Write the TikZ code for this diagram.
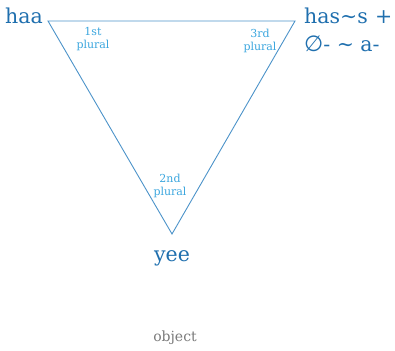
\documentclass[tikz,border=0pt]{standalone}
\usepackage{fontspec}
\setmainfont{DejaVu Serif}
\newfontfamily\symfont{DejaVu Sans}
\definecolor{mainblue}{HTML}{1F6FAE}
\definecolor{lineblue}{HTML}{4C93C9}
\definecolor{lightblue}{HTML}{3BA6DE}
\definecolor{objgray}{HTML}{7A7A7A}
\tikzset{
  big/.style={text=mainblue, font=\fontsize{20.5}{23}\selectfont, inner sep=0pt},
  small/.style={text=lightblue, font=\fontsize{11}{13.5}\selectfont, align=center, inner sep=0pt},
  tri/.style={draw=lineblue, line width=0.9pt}
}
\begin{document}
\begin{tikzpicture}[x=1pt,y=-1pt]
\useasboundingbox (0,0) rectangle (395,350);
\coordinate (A) at (48,21);
\coordinate (B) at (295,21);
\coordinate (C) at (172,234);
\draw[tri] (A) -- (B) -- (C) -- cycle;
\node[big, anchor=base] (haa) at (24,24) {haa};
\node[big, anchor=base west] (has) at (304,24) {has∼s\hspace{0.35em}+};
\node[big, anchor=base west] (null) at (304,52) {{\symfont\fontsize{22}{24}\selectfont ∅}- ∼ a-};
\node[big, anchor=base] (yee) at (172,261) {yee};
\node[small] (p1) at (93,39) {1st\\plural};
\node[small] (p3) at (260,41) {3rd\\plural};
\node[small] (p2) at (170,186) {2nd\\plural};
\node[text=objgray, font=\fontsize{14}{16}\selectfont, anchor=base, inner sep=0pt] (obj) at (175,341) {object};
\end{tikzpicture}
\end{document}
